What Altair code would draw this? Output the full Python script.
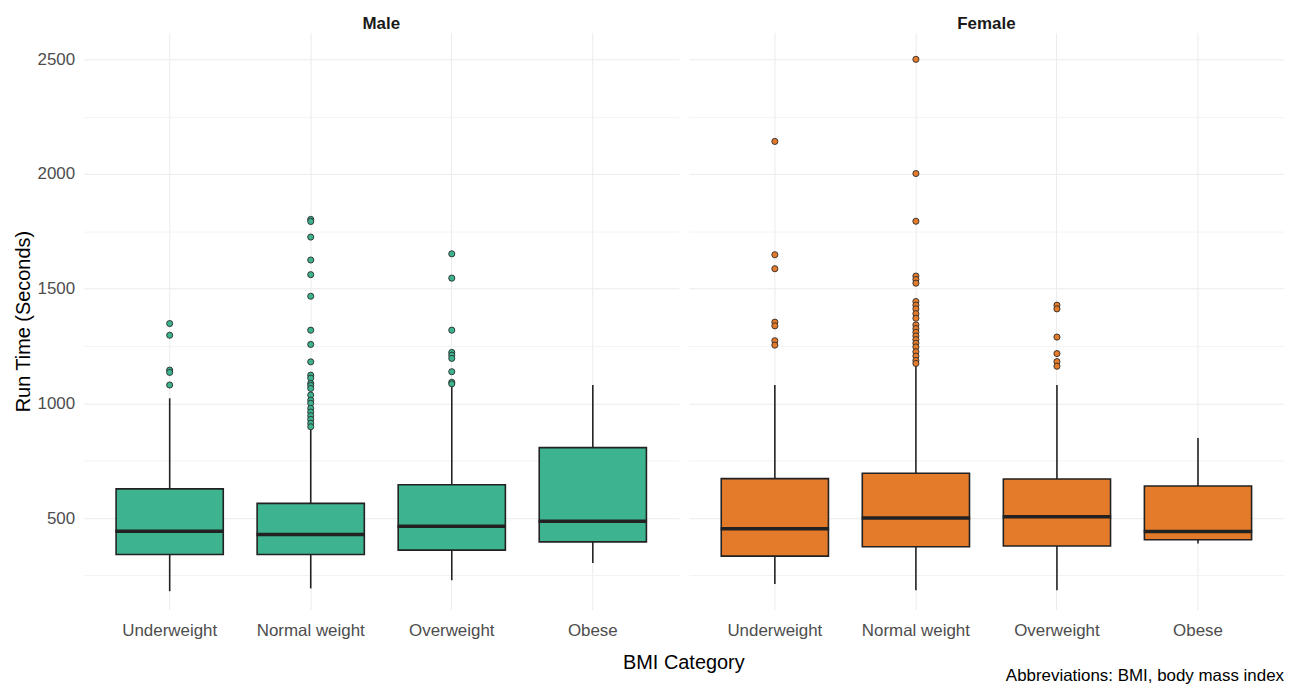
import altair as alt
import pandas as pd

categories = ["Underweight", "Normal weight", "Overweight", "Obese"]
sexes = ["Male", "Female"]

male_q1 = [341, 341, 360, 396]
male_median = [442, 428, 464, 486]
male_q3 = [627, 564, 645, 807]
male_lo = [181, 193, 229, 304]
male_hi = [1022, 891, 1078, 1080]

female_q1 = [334, 375, 378, 405]
female_median = [453, 500, 506, 441]
female_q3 = [672, 695, 670, 640]
female_lo = [212, 185, 185, 389]
female_hi = [1080, 1165, 1080, 849]

male_outliers = [
    [1348, 1297, 1145, 1135, 1080],
    [1802, 1793, 1725, 1625, 1561, 1467, 1319, 1257, 1181, 1123, 1110, 1087,
     1078, 1065, 1036, 1014, 1000, 978, 962, 946, 930, 913, 898],
    [1652, 1546, 1319, 1222, 1210, 1196, 1138, 1092, 1085],
    [],
]
female_outliers = [
    [2142, 1648, 1587, 1354, 1338, 1273, 1254],
    [2500, 2002, 1794, 1555, 1540, 1524, 1444, 1428, 1412, 1391, 1371, 1342,
     1326, 1310, 1294, 1278, 1262, 1246, 1225, 1206, 1187, 1174],
    [1428, 1412, 1289, 1217, 1182, 1162],
    [],
]

rows = []
stats = {
    "Male": (male_q1, male_median, male_q3, male_lo, male_hi, male_outliers),
    "Female": (female_q1, female_median, female_q3, female_lo, female_hi, female_outliers),
}
for sex in sexes:
    q1, med, q3, lo, hi, outs = stats[sex]
    for i, cat in enumerate(categories):
        rows.append({"kind": "box", "sex": sex, "cat": cat, "q1": q1[i], "median": med[i],
                     "q3": q3[i], "lo": lo[i], "hi": hi[i], "value": None})
        for v in outs[i]:
            rows.append({"kind": "out", "sex": sex, "cat": cat, "q1": None, "median": None,
                         "q3": None, "lo": None, "hi": None, "value": v})
df = pd.DataFrame(rows)

color_scale = alt.Scale(domain=["Male", "Female"], range=["#3DB38F", "#E47B2B"])
y_scale = alt.Scale(domain=[100, 2617], nice=False, zero=False)
x_enc = alt.X(
    "cat:N", sort=categories, title=None,
    scale=alt.Scale(paddingInner=0.24, paddingOuter=0.23),
    axis=alt.Axis(ticks=False, domain=False, grid=True, gridColor="#EBEBEB", gridWidth=1,
                  labelFontSize=17, labelColor="#4D4D4D", labelPadding=13, labelAngle=0),
)
y_axis = alt.Axis(
    values=[250, 500, 750, 1000, 1250, 1500, 1750, 2000, 2250, 2500],
    format="d",
    labelExpr="datum.value % 500 == 0 ? datum.label : ''",
    ticks=False, domain=False, grid=True,
    gridColor={"condition": {"test": "datum.value % 500 == 0", "value": "#EBEBEB"}, "value": "#F3F3F3"},
    labelFontSize=17, labelColor="#4D4D4D", labelPadding=9,
    title="Run Time (Seconds)", titleFontSize=20, titleFontWeight="normal",
    titleColor="#000000", titlePadding=4,
)

base = alt.Chart()

whisk = base.mark_rule(color="#222222", strokeWidth=1.6).encode(
    x=x_enc,
    y=alt.Y("lo:Q", scale=y_scale, axis=y_axis),
    y2="hi:Q",
).transform_filter("datum.kind == 'box'")

box = base.mark_bar(stroke="#222222", strokeWidth=1.6, opacity=1).encode(
    x=x_enc,
    y=alt.Y("q1:Q", scale=y_scale, axis=y_axis),
    y2="q3:Q",
    fill=alt.Fill("sex:N", scale=color_scale, legend=None),
).transform_filter("datum.kind == 'box'")

med = base.mark_tick(color="#222222", thickness=3.5, size=109, orient="horizontal", opacity=1).encode(
    x=x_enc,
    y=alt.Y("median:Q", scale=y_scale, axis=y_axis),
).transform_filter("datum.kind == 'box'")

outl = base.mark_point(filled=True, shape="circle", size=38, stroke="#2a2a2a",
                       strokeWidth=0.9, opacity=1).encode(
    x=x_enc,
    y=alt.Y("value:Q", scale=y_scale, axis=y_axis),
    fill=alt.Fill("sex:N", scale=color_scale, legend=None),
).transform_filter("datum.kind == 'out'")

chart = alt.layer(whisk, box, med, outl, data=df).properties(width=598, height=580).facet(
    column=alt.Column(
        "sex:N", sort=sexes, title="BMI Category",
        header=alt.Header(labelOrient="top", titleOrient="bottom", labelFontSize=17,
                          labelFontWeight="bold", labelColor="#1A1A1A", labelPadding=0,
                          titleFontSize=20, titleFontWeight="normal", titleColor="#000000",
                          titlePadding=4),
    ),
    spacing=10,
).properties(
    title=alt.TitleParams(text="Abbreviations: BMI, body mass index", orient="bottom",
                          anchor="end", fontSize=17, fontWeight="normal", color="#000000",
                          offset=-4),
).configure(font="Liberation Sans").configure_view(stroke=None)

chart.save("out.html", embed_options={"renderer": "svg", "actions": False})
